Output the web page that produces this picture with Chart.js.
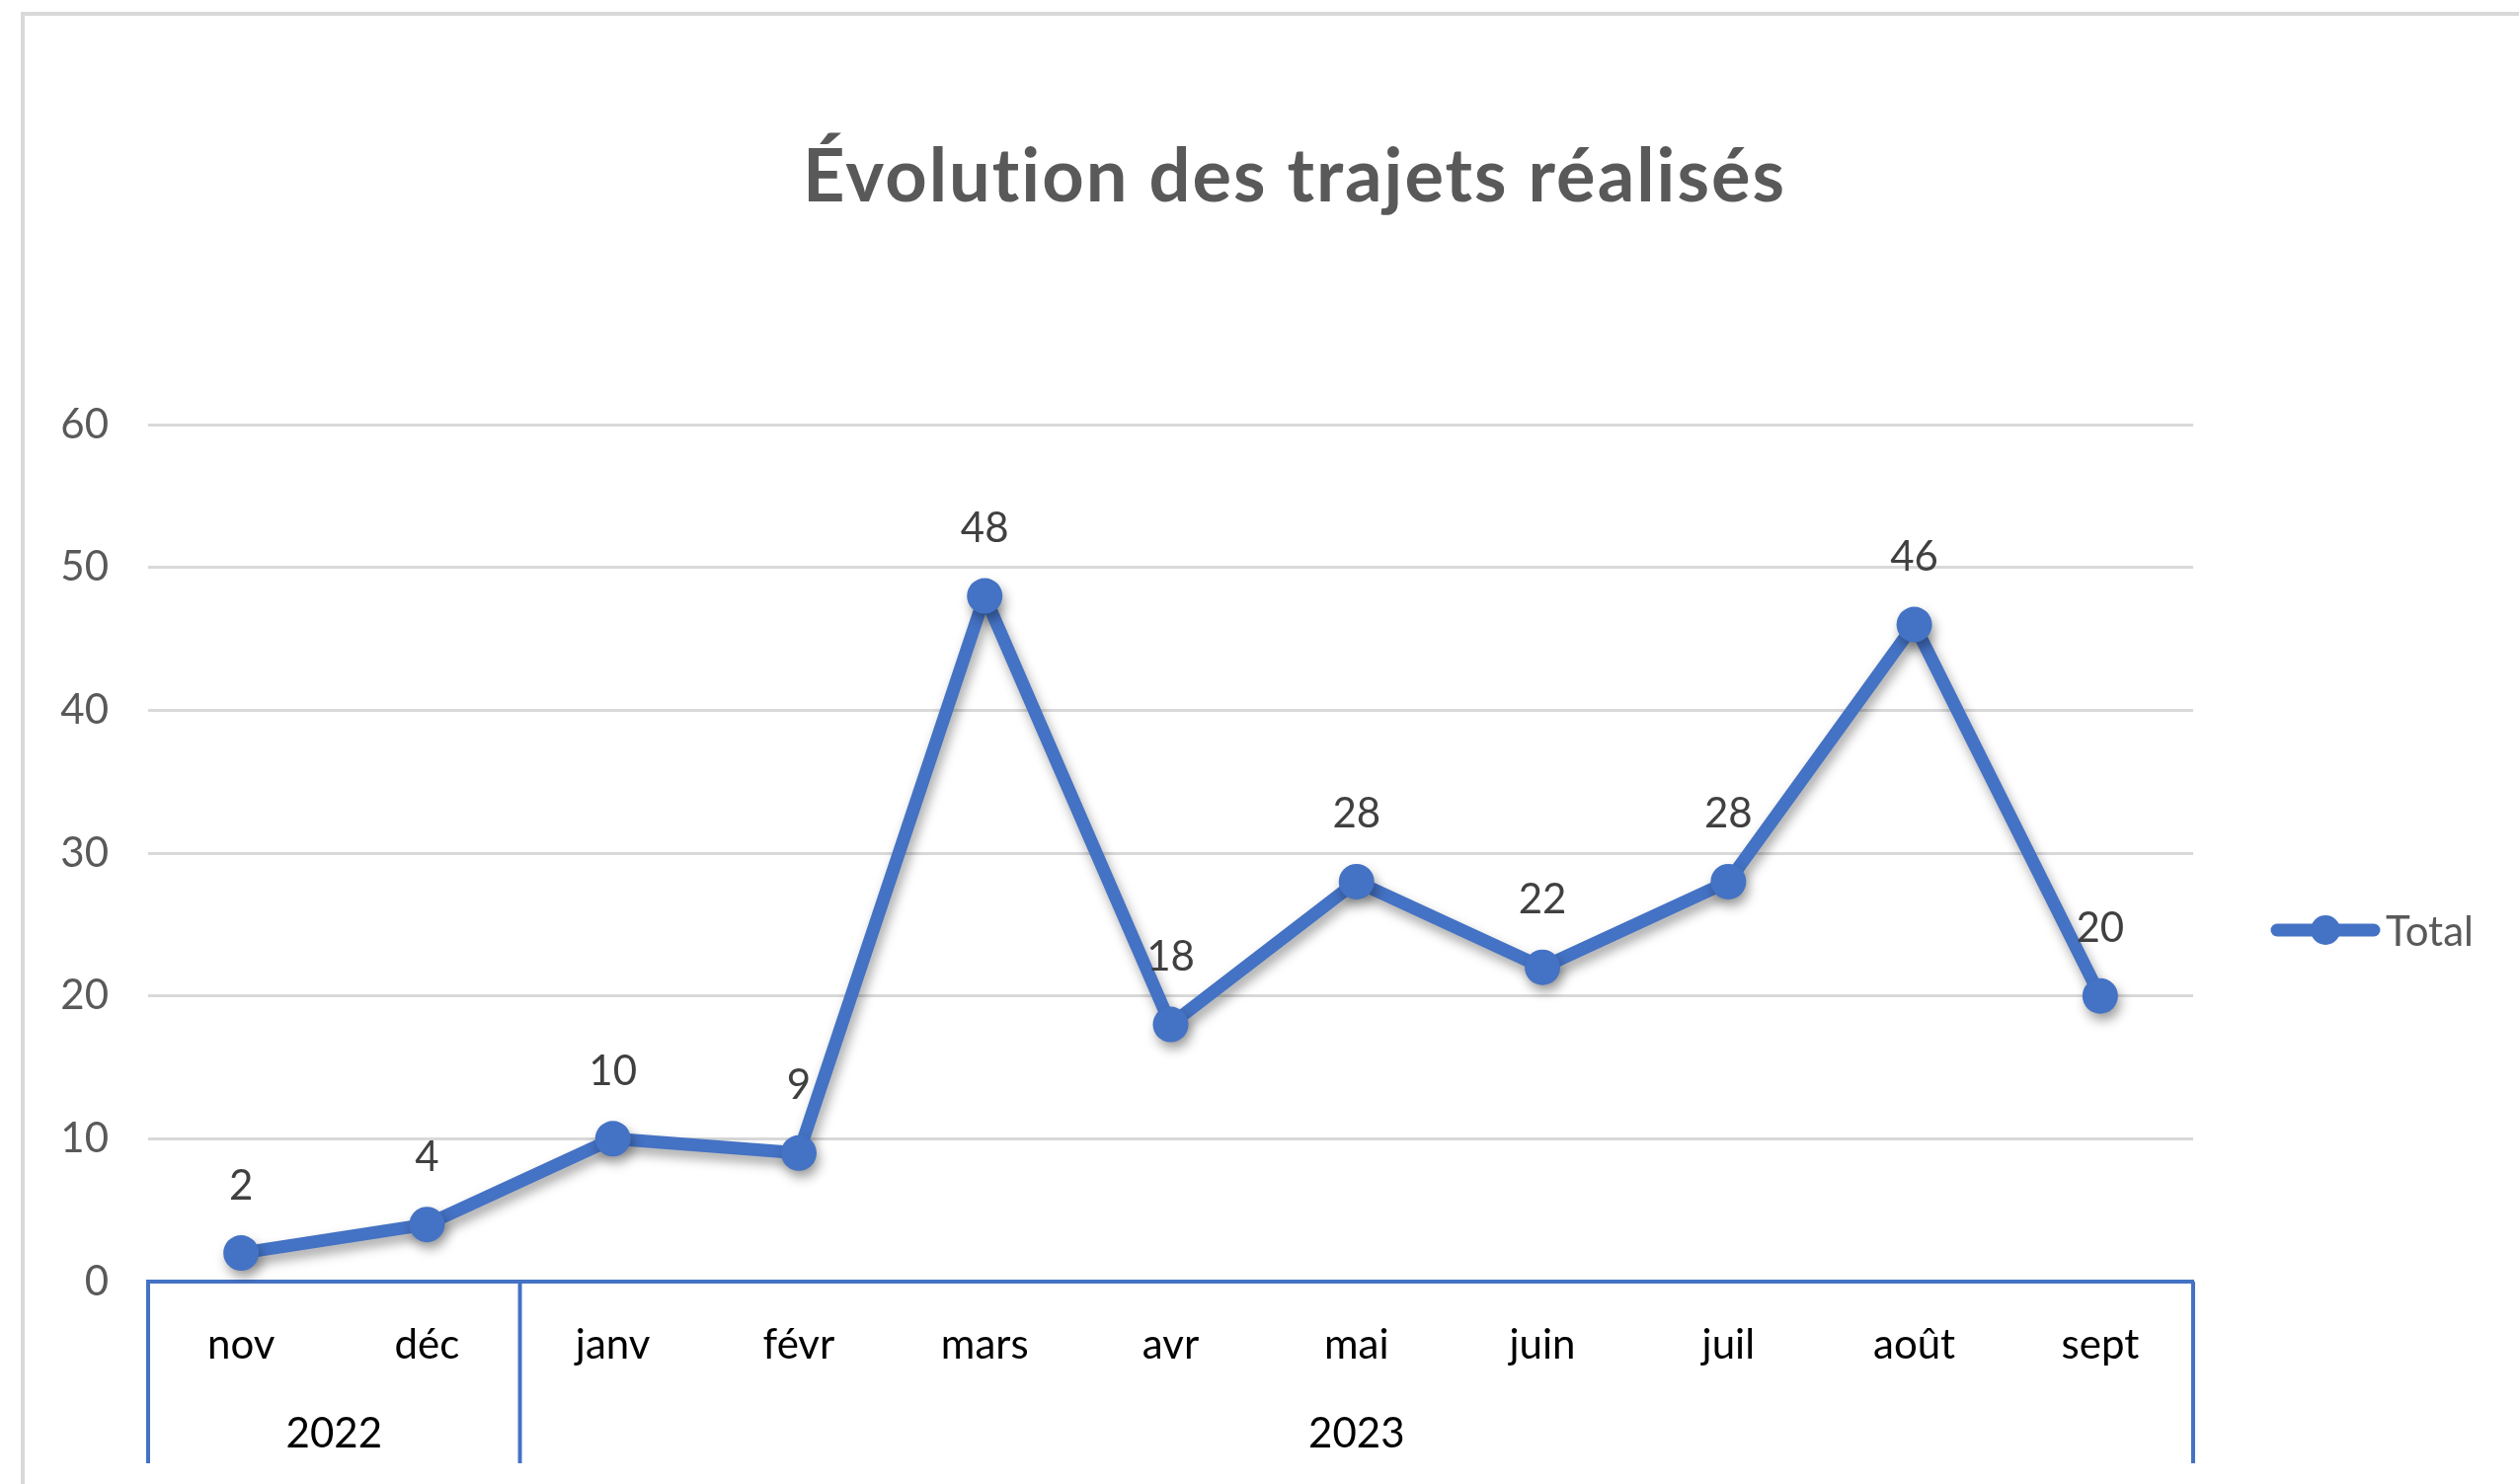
<!DOCTYPE html>
<html lang="fr">
<head>
    <meta charset="UTF-8">
    <title>Évolution des trajets réalisés</title>
    <script src="https://cdn.jsdelivr.net/npm/chart.js"></script>
    <style>
        html, body { margin: 0; padding: 0; background: #fff; }
        #wrap { width: 2551px; height: 1503px; }
    </style>
</head>
<body>
    <div id="wrap"><canvas id="trajetsChart"></canvas></div>

    <script>
        const months = ['nov', 'déc', 'janv', 'févr', 'mars', 'avr', 'mai', 'juin', 'juil', 'août', 'sept'];
        const totals = [2, 4, 10, 9, 48, 18, 28, 22, 28, 46, 20];
        const years = ['2022', '2023'];
        const monthsPerYear = [2, 9];
        const yTicks = [0, 10, 20, 30, 40, 50, 60];

        const blue = '#4472C4';
        const font = 'Lato, "Open Sans", sans-serif';

        // frame, title, legend, year groups and value labels
        const decorations = {
            id: 'decorations',
            beforeDraw(chart) {
                const ctx = chart.ctx;
                ctx.save();
                ctx.fillStyle = '#fff';
                ctx.fillRect(0, 0, chart.width, chart.height);
                ctx.strokeStyle = '#d9d9d9';
                ctx.lineWidth = 4;
                ctx.strokeRect(23, 14, 2600, 1600);
                ctx.restore();
            },
            beforeDatasetsDraw(chart) {
                const ctx = chart.ctx;
                ctx.save();
                ctx.shadowColor = 'rgba(0,0,0,0.35)';
                ctx.shadowBlur = 12;
                ctx.shadowOffsetX = 3;
                ctx.shadowOffsetY = 7;
            },
            afterDatasetsDraw(chart) {
                const ctx = chart.ctx;
                ctx.restore();

                // value labels
                const meta = chart.getDatasetMeta(0);
                ctx.save();
                ctx.font = '42px ' + font;
                ctx.fillStyle = '#404040';
                ctx.textAlign = 'center';
                ctx.textBaseline = 'middle';
                meta.data.forEach((pt, i) => {
                    ctx.fillText(String(totals[i]), pt.x, pt.y - 68);
                });
                ctx.restore();
            },
            afterDraw(chart) {
                const ctx = chart.ctx;
                const x = chart.scales.x;
                const area = chart.chartArea;
                const step = x.getPixelForValue(1) - x.getPixelForValue(0);

                ctx.save();
                // year group separators
                ctx.strokeStyle = blue;
                ctx.lineWidth = 4;
                let idx = 0;
                const bounds = [x.getPixelForValue(0) - step / 2];
                monthsPerYear.forEach(n => {
                    idx += n;
                    bounds.push(x.getPixelForValue(idx - 1) + step / 2);
                });
                bounds.forEach(b => {
                    ctx.beginPath();
                    ctx.moveTo(b, area.bottom);
                    ctx.lineTo(b, 1482);
                    ctx.stroke();
                });
                // year labels
                ctx.font = '42px ' + font;
                ctx.fillStyle = '#000';
                ctx.textAlign = 'center';
                ctx.textBaseline = 'middle';
                years.forEach((y, i) => {
                    ctx.fillText(y, (bounds[i] + bounds[i + 1]) / 2, 1452);
                });

                // title
                ctx.font = 'bold 74px ' + font;
                ctx.letterSpacing = '2px';
                ctx.fillStyle = '#595959';
                ctx.fillText('Évolution des trajets réalisés', 1311, 180);
                ctx.letterSpacing = '0px';

                // legend
                ctx.strokeStyle = blue;
                ctx.lineWidth = 13;
                ctx.lineCap = 'round';
                ctx.beginPath();
                ctx.moveTo(2306, 942);
                ctx.lineTo(2404, 942);
                ctx.stroke();
                ctx.fillStyle = blue;
                ctx.beginPath();
                ctx.arc(2355, 942, 15, 0, Math.PI * 2);
                ctx.fill();
                ctx.fillStyle = '#595959';
                ctx.textAlign = 'left';
                ctx.font = '42px ' + font;
                ctx.fillText('Total', 2416, 944);
                ctx.restore();
            }
        };

        const ctx = document.getElementById('trajetsChart').getContext('2d');
        const chart = new Chart(ctx, {
            type: 'line',
            data: {
                labels: months,
                datasets: [{
                    label: 'Total',
                    data: totals,
                    borderColor: blue,
                    backgroundColor: blue,
                    borderWidth: 13,
                    borderJoinStyle: 'round',
                    borderCapStyle: 'round',
                    pointRadius: 18,
                    pointBackgroundColor: blue,
                    pointBorderWidth: 0,
                    tension: 0
                }]
            },
            options: {
                responsive: true,
                maintainAspectRatio: false,
                animation: false,
                layout: { padding: { left: 20, right: 330, top: 430, bottom: 0 } },
                plugins: {
                    legend: { display: false },
                    title: { display: false },
                    tooltip: { enabled: false }
                },
                scales: {
                    x: {
                        offset: true,
                        grid: { display: false, drawTicks: false },
                        border: { display: true, color: blue, width: 4 },
                        ticks: {
                            padding: 39,
                            color: '#000',
                            font: { family: font, size: 42 },
                            maxRotation: 0,
                            autoSkip: false
                        },
                        afterFit(scale) { scale.height = 205; }
                    },
                    y: {
                        min: 0,
                        max: 60,
                        afterBuildTicks(scale) {
                            scale.ticks = yTicks.map(v => ({ value: v }));
                        },
                        grid: {
                            drawTicks: false,
                            lineWidth: 3,
                            color: c => c.tick && c.tick.value === 0 ? 'rgba(0,0,0,0)' : '#d9d9d9'
                        },
                        border: { display: false },
                        ticks: {
                            padding: 40,
                            color: '#595959',
                            font: { family: font, size: 42 }
                        },
                        afterFit(scale) { scale.width = 130; }
                    }
                }
            },
            plugins: [decorations]
        });
    </script>
</body>
</html>
